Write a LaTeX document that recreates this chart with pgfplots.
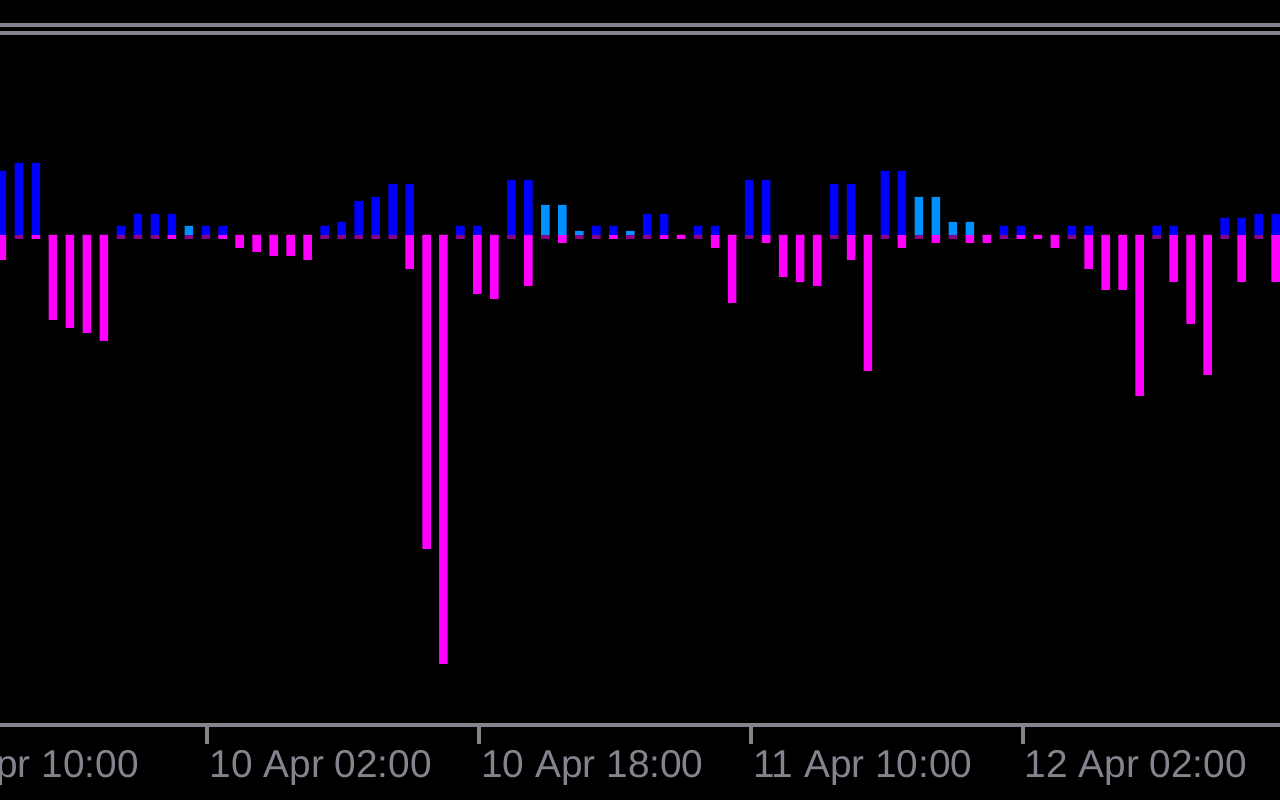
\documentclass[border=0pt]{standalone}
\usepackage{pgfplots}
\pgfplotsset{compat=1.18}
\usepackage{fontspec}
\setmainfont{Liberation Sans}
\definecolor{mtgray}{RGB}{132,132,142}
\definecolor{mtblue}{RGB}{0,0,255}
\definecolor{mtlight}{RGB}{0,144,255}
\definecolor{mtmag}{RGB}{255,0,255}
\definecolor{mtpurp}{RGB}{139,0,139}
\begin{document}
\begin{tikzpicture}
\path[use as bounding box] (0,0) rectangle (320mm,200mm);
\fill[black] (0,0) rectangle (320mm,200mm);
\begin{axis}[
  at={(0mm,18.75mm)}, anchor=south west,
  scale only axis, width=320mm, height=181.25mm,
  xmin=-0.1178, xmax=75.265, ymin=-490, ymax=235,
  axis x line=bottom, axis y line=none,
  axis line style={-, line width=1mm, color=mtgray},
  xtick={12.1,28.1,44.1,60.1}, xticklabel={},
  tick align=outside, major tick length=4.75mm,
  xtick style={line width=1mm, color=mtgray},
  ytick=\empty,
  ybar, bar width=2.125mm, bar shift=0pt,
  clip=false,
]
% zero markers
\addplot[fill=mtpurp, draw=none] coordinates {
(0,-4)(1,-4)(2,-4)(3,-4)(4,-4)(5,-4)(6,-4)(7,-4)(8,-4)(9,-4)(10,-4)(11,-4)(12,-4)(13,-4)(14,-4)(15,-4)(16,-4)(17,-4)(18,-4)(19,-4)
(20,-4)(21,-4)(22,-4)(23,-4)(24,-4)(25,-4)(26,-4)(27,-4)(28,-4)(29,-4)(30,-4)(31,-4)(32,-4)(33,-4)(34,-4)(35,-4)(36,-4)(37,-4)(38,-4)(39,-4)
(40,-4)(41,-4)(42,-4)(43,-4)(44,-4)(45,-4)(46,-4)(47,-4)(48,-4)(49,-4)(50,-4)(51,-4)(52,-4)(53,-4)(54,-4)(55,-4)(56,-4)(57,-4)(58,-4)(59,-4)
(60,-4)(61,-4)(62,-4)(63,-4)(64,-4)(65,-4)(66,-4)(67,-4)(68,-4)(69,-4)(70,-4)(71,-4)(72,-4)(73,-4)(74,-4)(75,-4)};
% negative
\addplot[fill=mtmag, draw=none] coordinates {
(0,-25)(2,-4)(3,-85)(4,-93)(5,-98)(6,-106)(10,-4)(13,-4)(14,-13)(15,-17)(16,-21)(17,-21)(18,-25)
(24,-34)(25,-314)(26,-429)(28,-59)(29,-64)(31,-51)(33,-8)(36,-4)(39,-4)(40,-4)(42,-13)(43,-68)
(45,-8)(46,-42)(47,-47)(48,-51)(50,-25)(51,-136)(53,-13)(55,-8)(57,-8)(58,-8)(60,-4)(61,-4)(62,-13)
(64,-34)(65,-55)(66,-55)(67,-161)(69,-47)(70,-89)(71,-140)(73,-47)(75,-47)};
% positive blue
\addplot[fill=mtblue, draw=none] coordinates {
(0,64)(1,72)(2,72)(7,9)(8,21)(9,21)(10,21)(12,9)(13,9)(19,9)(20,13)(21,34)(22,38)(23,51)(24,51)
(27,9)(28,9)(30,55)(31,55)(35,9)(36,9)(38,21)(39,21)(41,9)(42,9)(44,55)(45,55)(49,51)(50,51)
(52,64)(53,64)(59,9)(60,9)(63,9)(64,9)(68,9)(69,9)(72,17)(73,17)(74,21)(75,21)};
% positive light blue
\addplot[fill=mtlight, draw=none] coordinates {
(11,9)(32,30)(33,30)(34,4)(37,4)(54,38)(55,38)(56,13)(57,13)};
\draw[mtgray, line width=1mm] (axis cs:-0.1178,210) -- (axis cs:75.265,210);
\draw[mtgray, line width=1mm] (axis cs:-0.1178,202) -- (axis cs:75.265,202);
\foreach \xx/\lab in {-3.9/9 Apr 10:00, 12.1/10 Apr 02:00, 28.1/10 Apr 18:00, 44.1/11 Apr 10:00, 60.1/12 Apr 02:00}{
  \edef\temp{\noexpand\node[anchor=north west, inner sep=0pt, text=mtgray, font=\noexpand\fontsize{27.6pt}{27.6pt}\noexpand\selectfont, xshift=0.5mm, yshift=-6.25mm] at (axis cs:\xx,-490) {\lab};}
  \temp
}
\end{axis}
\end{tikzpicture}
\end{document}
